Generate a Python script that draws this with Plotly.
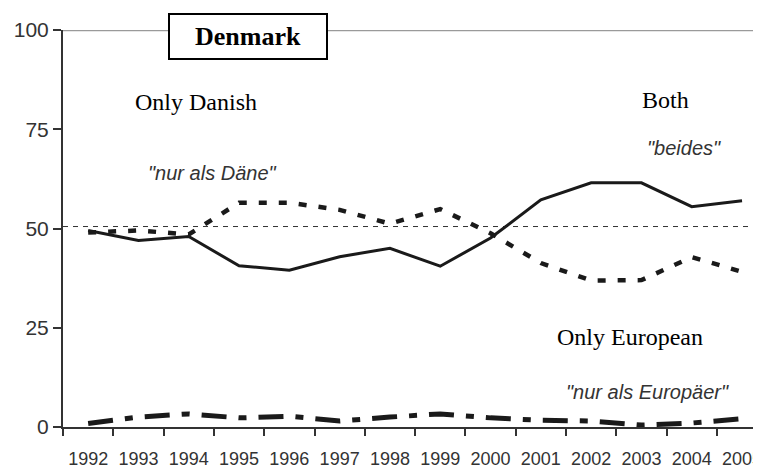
import plotly.graph_objects as go

years = [str(y) for y in range(1992, 2006)]
both = [49.5, 47, 48, 40.6, 39.5, 42.9, 45, 40.5, 47.6, 57.2, 61.5, 61.5, 55.5, 57]
only_danish = [49, 49.5, 48.5, 56.5, 56.5, 54.7, 51.2, 54.9, 48.8, 41.3, 36.9, 37, 42.8, 39.1]
only_european = [0.9, 2.5, 3.3, 2.3, 2.7, 1.5, 2.5, 3.3, 2.3, 1.7, 1.5, 0.5, 1.0, 2.1]
y_ticks = [0, 25, 50, 75, 100]

fig = go.Figure()

# reference line at 50
fig.add_shape(type="line", xref="paper", x0=0, x1=1, yref="y", y0=50.5, y1=50.5,
              line=dict(color="#333333", width=1, dash="5px,5px"), layer="below")
# grey top border
fig.add_shape(type="line", xref="paper", x0=0, x1=1, yref="y", y0=100, y1=100,
              line=dict(color="#9a9a9a", width=2.5), layer="below")

fig.add_trace(go.Scatter(x=years, y=only_danish, mode="lines",
                         line=dict(color="#1a1a1a", width=4.5, dash="8px,12px")))
fig.add_trace(go.Scatter(x=years, y=both, mode="lines",
                         line=dict(color="#1a1a1a", width=3)))
fig.add_trace(go.Scatter(x=years, y=only_european, mode="lines",
                         line=dict(color="#1a1a1a", width=5, dash="25px,12px,8px,12px")))

serif = "Liberation Serif, Times New Roman, serif"
sans = "Liberation Sans, Arial, sans-serif"

labels = [
    ("Only Danish", 2.14, 81.9, serif, 24, "#000000", False),
    ("\"nur als Däne\"", 2.46, 64, sans, 20, "#333333", True),
    ("Both", 11.47, 82.4, serif, 24, "#000000", False),
    ("\"beides\"", 11.85, 70.3, sans, 20, "#333333", True),
    ("Only European", 10.77, 22.7, serif, 24, "#000000", False),
    ("\"nur als Europäer\"", 11.13, 8.8, sans, 20, "#333333", True),
]
for text, x, y, fam, size, col, ital in labels:
    fig.add_annotation(x=x, y=y, xref="x", yref="y", text=text, showarrow=False,
                       font=dict(family=fam, size=size, color=col,
                                 style="italic" if ital else "normal"))

fig.add_annotation(x=3.18, y=98.4, xref="x", yref="y", text="<b>Denmark</b>",
                   showarrow=False, font=dict(family=serif, size=26, color="#000000"),
                   bgcolor="white", bordercolor="#000000", borderwidth=2,
                   borderpad=0, width=156, height=43)

fig.update_xaxes(type="category", tickson="boundaries", range=[-0.5, 13.377],
                 showline=True, linecolor="#333333", linewidth=2,
                 ticks="outside", ticklen=7, tickcolor="#333333", tickwidth=1.5,
                 showgrid=False, zeroline=False, tickangle=0, automargin=False,
                 ticklabelstandoff=14,
                 tickfont=dict(family=sans, size=18, color="#333333"))
fig.update_yaxes(range=[0, 100], tickvals=y_ticks,
                 showline=True, linecolor="#333333", linewidth=2,
                 ticks="outside", ticklen=8, tickcolor="#333333", tickwidth=1.5,
                 showgrid=False, zeroline=False, automargin=False,
                 tickfont=dict(family=sans, size=21, color="#333333"))

# page body has an 8px margin, so the figure is offset by 8px
fig.update_layout(width=753, height=463, showlegend=False,
                  margin=dict(l=55, r=0, t=22, b=44),
                  plot_bgcolor="white", paper_bgcolor="white")

fig.write_html("out.html")
